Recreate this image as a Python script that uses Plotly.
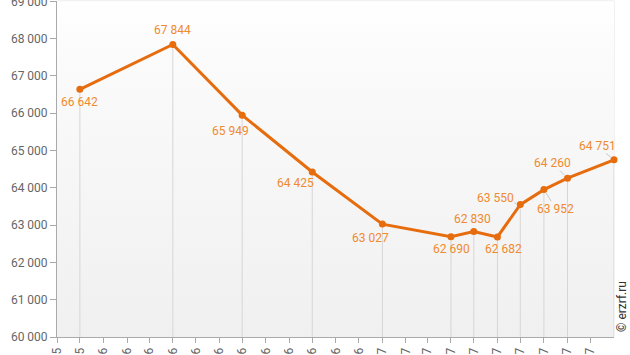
import plotly.graph_objects as go
import pandas as pd

# ---- data ----
dates = ["2015-12-01", "2016-04-01", "2016-07-01", "2016-10-01", "2017-01-01",
         "2017-04-01", "2017-05-01", "2017-06-01", "2017-07-01", "2017-08-01",
         "2017-09-01", "2017-11-01"]
values = [66642, 67844, 65949, 64425, 63027, 62690, 62830, 62682, 63550, 63952, 64260, 64751]
# label offsets (px) relative to each point, and whether a connector is drawn
label_dx = [0, 0, -12, -17, -12, 1, -1, 6, -25, 12, -15, -17]
label_dy = [13, -14, 16, 11, 14, 12, -12, 12, -7, 19, -15, -14]
label_conn = [False, False, False, False, False, False, False, False, True, True, True, True]

x_start, x_end = "2015-11-01", "2017-11-01"
y_min, y_max = 60000, 69000
tick_months = pd.date_range("2015-11-01", "2017-10-01", freq="MS")
watermark = "© erzrf.ru"

LINE = "#E66C0E"
LABEL = "#EF8A30"
FONT = "Roboto"

fig = go.Figure()

# plot background gradient
fig.add_trace(go.Scatter(
    x=[x_start, x_end, x_end, x_start, x_start],
    y=[y_min, y_min, y_max, y_max, y_min],
    mode="lines", line=dict(width=0), fill="toself",
    fillgradient=dict(type="vertical",
                      colorscale=[[0, "#f0f0f0"], [0.85, "#fbfbfb"], [1, "#ffffff"]]),
    hoverinfo="skip", showlegend=False))

# drop lines
dx, dy = [], []
for d, v in zip(dates, values):
    dx += [d, d, None]
    dy += [v, y_min, None]
fig.add_trace(go.Scatter(x=dx, y=dy, mode="lines",
                         line=dict(color="#d6d6d6", width=1),
                         hoverinfo="skip", showlegend=False))

# main series
fig.add_trace(go.Scatter(x=dates, y=values, mode="lines+markers",
                         line=dict(color=LINE, width=3),
                         marker=dict(color=LINE, size=7),
                         cliponaxis=False, showlegend=False))

def fmt(v):
    return f"{v:,}".replace(",", " ")

for d, v, ddx, ddy, conn in zip(dates, values, label_dx, label_dy, label_conn):
    fig.add_annotation(x=d, y=v, xref="x", yref="y", text=fmt(v),
                       showarrow=True, ax=ddx, ay=ddy, axref="pixel", ayref="pixel",
                       arrowhead=0, arrowwidth=1,
                       arrowcolor="#c8c8c8" if conn else "rgba(0,0,0,0)",
                       standoff=4 if conn else 0,
                       font=dict(family=FONT, size=12, color=LABEL),
                       borderpad=0)

fig.add_annotation(text=watermark, xref="paper", yref="paper",
                   x=(622 - 57) / 557, y=(337 - 307) / 336,
                   xanchor="center", yanchor="middle", textangle=-90,
                   showarrow=False, font=dict(family=FONT, size=12, color="#333333"))

# frame (top / right)
fig.add_shape(type="rect", xref="paper", yref="paper", x0=0, x1=1, y0=0, y1=1,
              line=dict(color="#e4e4e4", width=1), layer="below")

fig.update_layout(
    width=630, height=355,
    margin=dict(l=57, r=16, t=1, b=18),
    paper_bgcolor="#ffffff", plot_bgcolor="#ffffff",
    separators=", ",
    font=dict(family=FONT, size=12, color="#666666"),
    showlegend=False,
    xaxis=dict(type="date", range=[x_start, x_end],
               tickvals=list(tick_months), tickformat="%m.%Y", tickangle=-90,
               ticks="outside", ticklen=5, tickcolor="#aaaaaa",
               showline=True, linecolor="#aaaaaa", linewidth=1,
               showgrid=False, zeroline=False, automargin=False,
               ticklabeloverflow="allow",
               tickfont=dict(family=FONT, size=12, color="#666666")),
    yaxis=dict(range=[y_min, y_max + 10], dtick=1000, tick0=60000, tickformat=",d",
               ticks="outside", ticklen=6, tickcolor="#aaaaaa",
               showline=True, linecolor="#aaaaaa", linewidth=1,
               showgrid=False, zeroline=False, automargin=False,
               ticklabeloverflow="allow",
               tickfont=dict(family=FONT, size=12, color="#666666")),
)

fig.write_html("out.html")
